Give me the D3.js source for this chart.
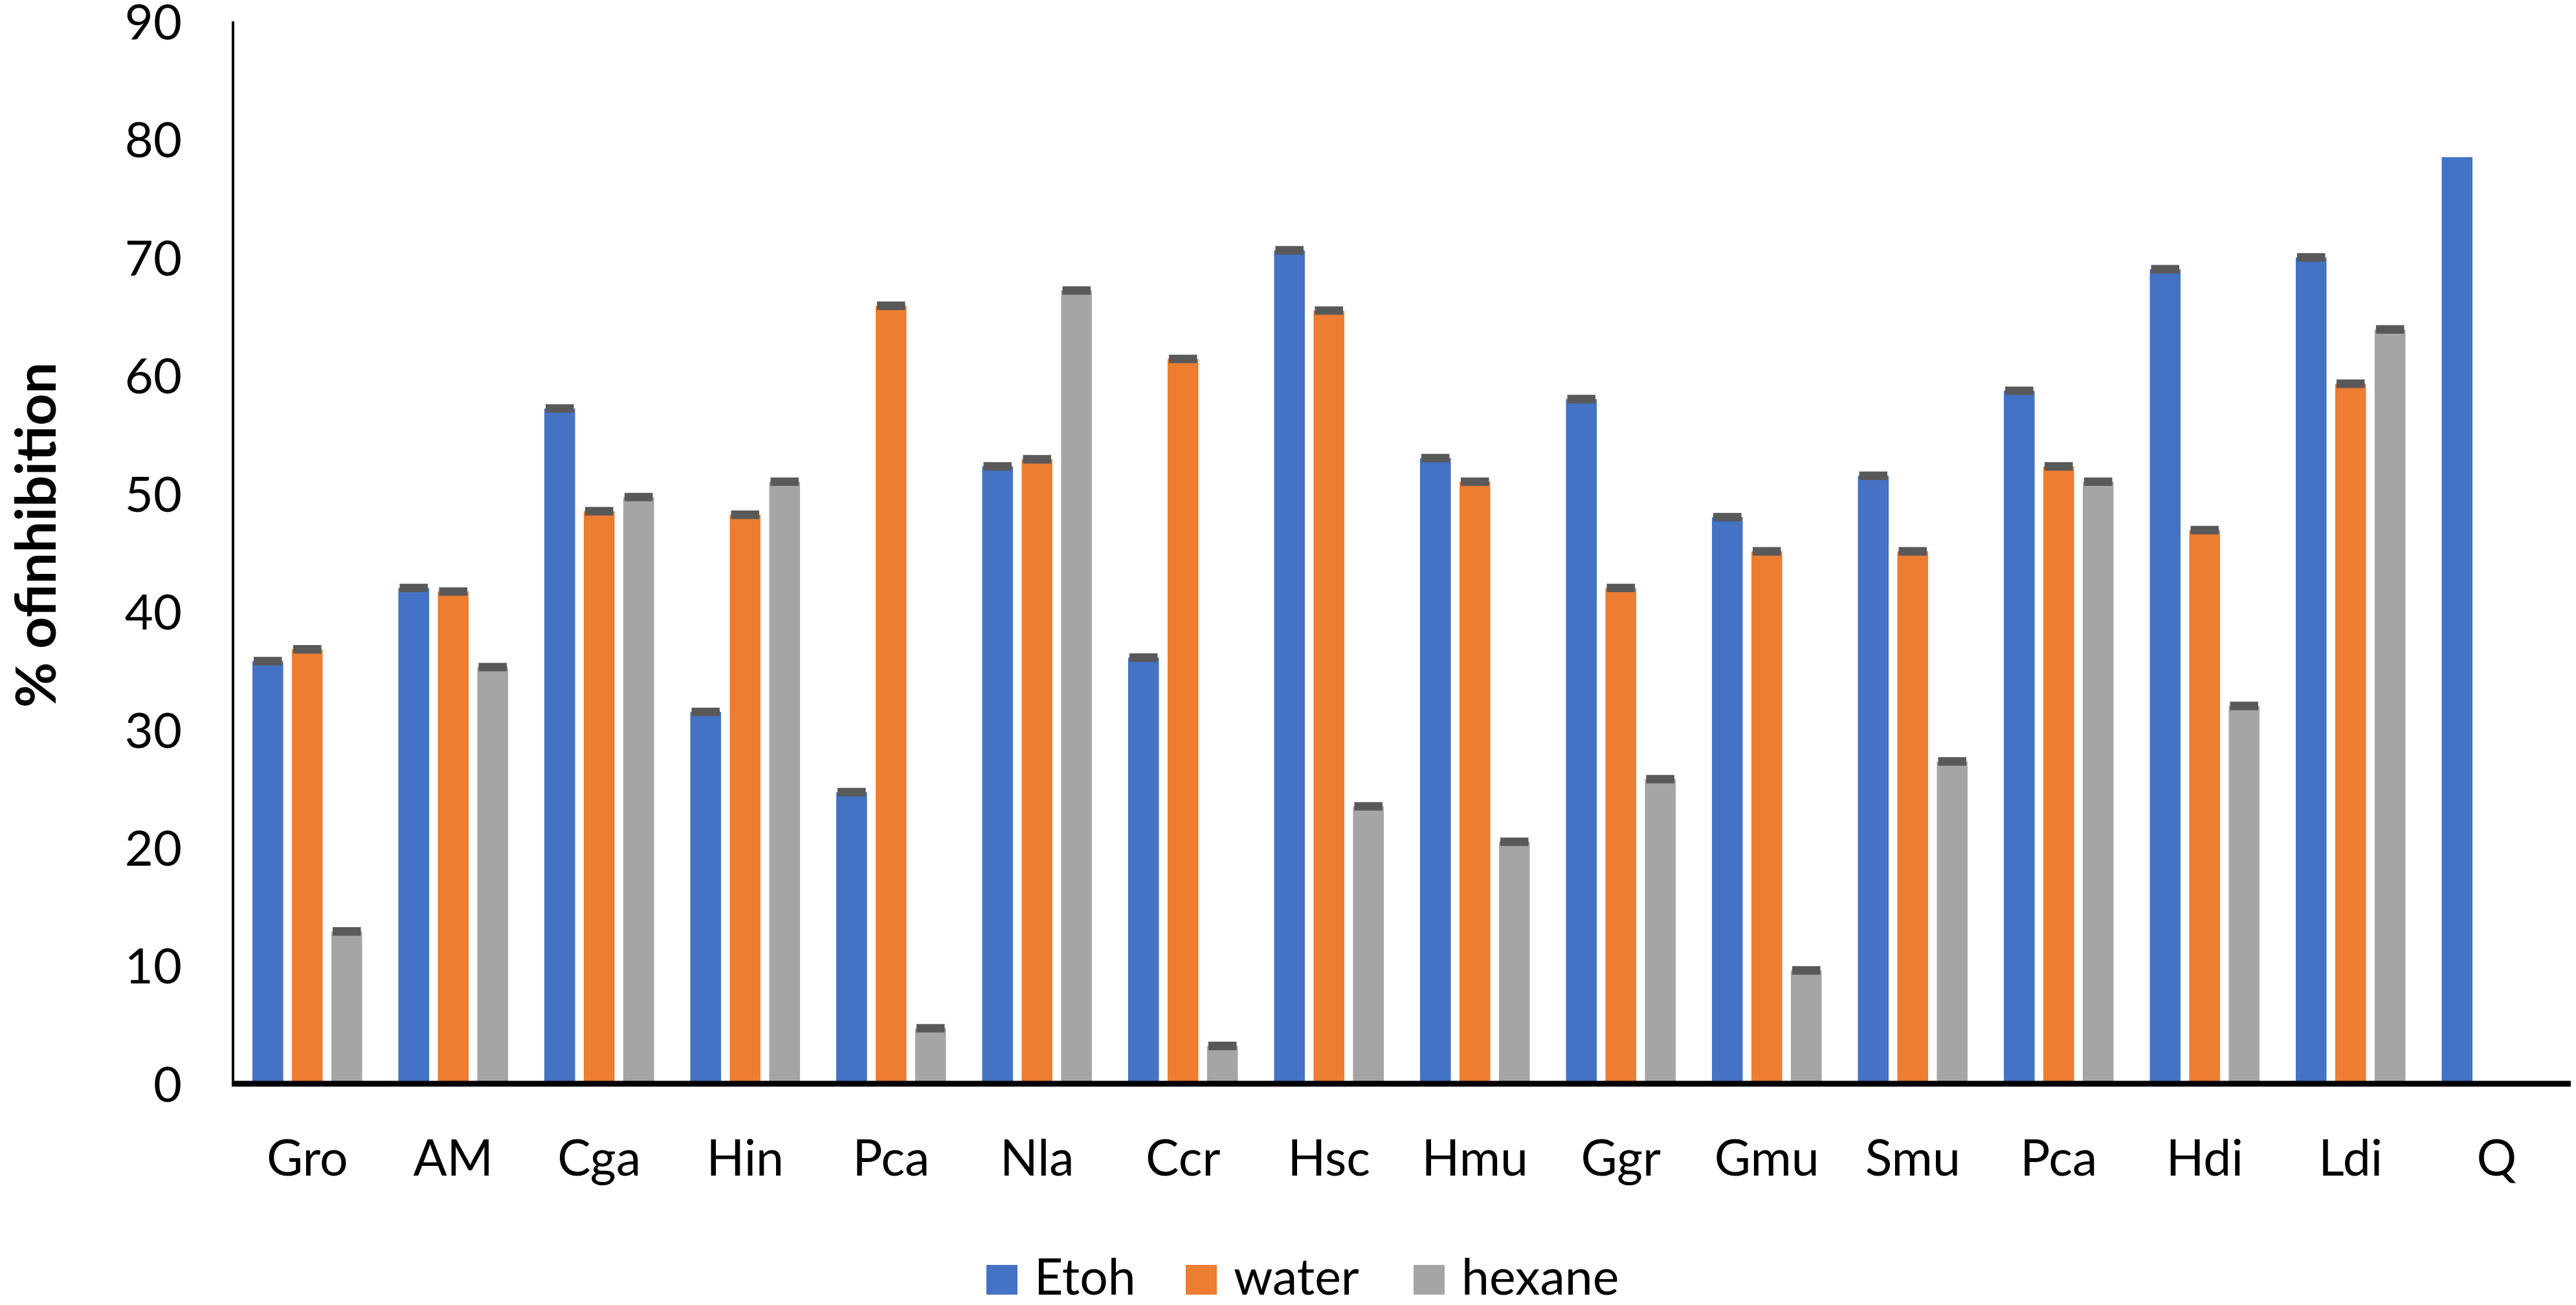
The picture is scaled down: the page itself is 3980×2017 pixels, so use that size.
<!DOCTYPE html>
<meta charset='utf-8'>
<style>
    body { margin: 0; background: #fff; }
    text { font-family: Lato, 'Open Sans', sans-serif; fill: #000; }
</style>
<body>
    <script src='https://d3js.org/d3.v7.min.js'></script>
    <script>
        var width = 3980,
            height = 2017;

        // data
        var categories = ['Gro', 'AM', 'Cga', 'Hin', 'Pca', 'Nla', 'Ccr', 'Hsc', 'Hmu', 'Ggr', 'Gmu', 'Smu', 'Pca', 'Hdi', 'Ldi', 'Q'];
        var series = ['Etoh', 'water', 'hexane'];
        var etoh   = [35.8, 42.0, 57.2, 31.5, 24.7, 52.3, 36.1, 70.6, 53.0, 58.0, 48.0, 51.5, 58.7, 69.0, 70.0, 78.5];
        var water  = [36.8, 41.7, 48.5, 48.2, 65.9, 52.9, 61.4, 65.5, 51.0, 42.0, 45.1, 45.1, 52.3, 46.9, 59.3, null];
        var hexane = [12.9, 35.3, 49.7, 51.0, 4.7, 67.2, 3.2, 23.5, 20.5, 25.8, 9.6, 27.3, 51.0, 32.0, 63.9, null];
        var etohErr   = [0.36, 0.36, 0.36, 0.36, 0.36, 0.36, 0.36, 0.36, 0.36, 0.36, 0.36, 0.36, 0.36, 0.36, 0.36, null];
        var waterErr  = [0.36, 0.36, 0.36, 0.36, 0.36, 0.36, 0.36, 0.36, 0.36, 0.36, 0.36, 0.36, 0.36, 0.36, 0.36, null];
        var hexaneErr = [0.36, 0.36, 0.36, 0.36, 0.36, 0.36, 0.36, 0.36, 0.36, 0.36, 0.36, 0.36, 0.36, 0.36, 0.36, null];
        var yTicks = [0, 10, 20, 30, 40, 50, 60, 70, 80, 90];

        var colors = ['#4472C4', '#ED7D31', '#A5A5A5'];
        var values = [etoh, water, hexane];
        var errors = [etohErr, waterErr, hexaneErr];

        var svg = d3.select('body').append('svg')
            .attr('width', width)
            .attr('height', height);

        var x0 = d3.scaleBand()
            .domain(d3.range(categories.length))
            .range([362, 3970]);

        var x1 = d3.scaleBand()
            .domain(series)
            .range([28, x0.bandwidth() - 28])
            .paddingInner(0.22);

        var y = d3.scaleLinear()
            .domain([0, 90])
            .range([1675, 33]);

        // flatten into bar records
        var bars = [];
        categories.forEach(function(c, i) {
            series.forEach(function(s, j) {
                if (values[j][i] != null) {
                    bars.push({ i: i, s: s, j: j, v: values[j][i], e: errors[j][i] });
                }
            });
        });

        svg.selectAll('rect.bar').data(bars).enter().append('rect')
            .attr('class', 'bar')
            .attr('x', function(d) { return x0(d.i) + x1(d.s); })
            .attr('width', x1.bandwidth())
            .attr('y', function(d) { return y(d.v); })
            .attr('height', function(d) { return y(0) - y(d.v); })
            .attr('fill', function(d) { return colors[d.j]; });

        // error bars drawn as a thick dark band at the top of each bar
        svg.selectAll('line.err').data(bars.filter(function(d) { return d.e != null; })).enter().append('line')
            .attr('class', 'err')
            .attr('x1', function(d) { return x0(d.i) + x1(d.s) + x1.bandwidth() / 2; })
            .attr('x2', function(d) { return x0(d.i) + x1(d.s) + x1.bandwidth() / 2; })
            .attr('y1', function(d) { return y(d.v + d.e); })
            .attr('y2', function(d) { return y(d.v - d.e); })
            .attr('stroke', '#595959')
            .attr('stroke-width', x1.bandwidth() - 4);

        // y axis
        var yAxis = d3.axisLeft(y).tickValues(yTicks).tickSize(0).tickPadding(79);
        var gy = svg.append('g').attr('transform', 'translate(360,0)').call(yAxis);
        gy.select('.domain').remove();
        gy.selectAll('text').style('font-size', '76px').attr('dy', '0.36em');
        svg.append('line')
            .attr('x1', 360).attr('x2', 360)
            .attr('y1', y(90)).attr('y2', y(0) + 4)
            .attr('stroke', '#000').attr('stroke-width', 4);

        // x axis
        var xAxis = d3.axisBottom(x0).tickSize(0).tickPadding(0)
            .tickFormat(function(i) { return categories[i]; });
        var gx = svg.append('g').attr('transform', 'translate(0,' + y(0) + ')').call(xAxis);
        gx.select('.domain').remove();
        gx.selectAll('text').style('font-size', '77px').attr('dy', null).attr('y', 142);
        svg.append('line')
            .attr('x1', 358).attr('x2', 3972)
            .attr('y1', y(0)).attr('y2', y(0))
            .attr('stroke', '#000').attr('stroke-width', 9);

        // y title
        svg.append('text')
            .attr('transform', 'translate(86,827) rotate(-90)')
            .attr('text-anchor', 'middle')
            .style('font-size', '86px')
            .style('font-weight', 'bold')
            .text('% ofinhibition');

        // legend
        var legendX = [1524, 1832, 2184];
        var leg = svg.selectAll('g.leg').data(series).enter().append('g')
            .attr('class', 'leg')
            .attr('transform', function(d, i) { return 'translate(' + legendX[i] + ',1955)'; });
        leg.append('rect')
            .attr('width', 48).attr('height', 46)
            .attr('fill', function(d, i) { return colors[i]; });
        leg.append('text')
            .attr('x', 74).attr('y', 46)
            .style('font-size', '77px')
            .text(function(d) { return d; });
   </script>
</body>
